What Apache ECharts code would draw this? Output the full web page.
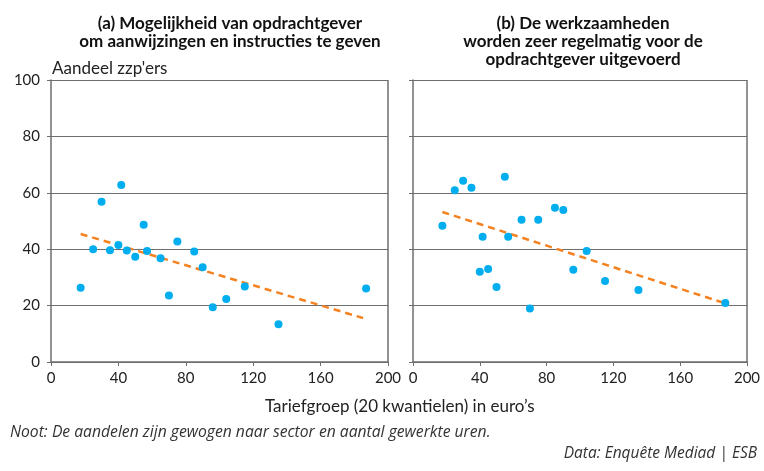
<!DOCTYPE html>
<html>
<head>
<meta charset="utf-8">
<script src="https://cdn.jsdelivr.net/npm/echarts@6/dist/echarts.min.js"></script>
<style>
  html, body { margin: 0; padding: 0; background: #fff; }
  #main { width: 764px; height: 471px; }
</style>
</head>
<body>
<div id="main"></div>
<script>
// tariefgroep (x) en aandeel zzp'ers (y)
let tarief = [17.6, 25, 30, 35, 40, 41.7, 45, 50, 55, 57, 65, 70, 75, 85, 90, 96, 104, 115, 135, 187]
let aandeelA = [26.3, 40.0, 56.8, 39.6, 41.5, 62.8, 39.5, 37.3, 48.7, 39.4, 36.8, 23.6, 42.7, 39.2, 33.6, 19.4, 22.3, 26.8, 13.4, 26.1]
let aandeelB = [48.3, 60.9, 64.3, 61.8, 32.0, 44.4, 33.0, 26.6, 65.7, 44.4, 50.4, 19.0, 50.4, 54.7, 53.9, 32.7, 39.4, 28.7, 25.5, 20.9]
// trendlijnen (begin- en eindpunt)
let trendA = [[17.6, 45.4], [185.2, 15.6]]
let trendB = [[17.6, 53.2], [187, 20.8]]
let xTicks = [0, 40, 80, 120, 160, 200]
let yTicks = [0, 20, 40, 60, 80, 100]

let font = 'Lato'
let grijs = '#6e6e6e'
let blauw = '#00aeef'
let oranje = '#f58220'

let punten = function(ys) {
    return tarief.map((x, i) => [x, ys[i]])
}

let xAs = function(idx) {
    return {
        gridIndex: idx, type: 'value', min: xTicks[0], max: xTicks[xTicks.length - 1], interval: 40,
        axisLine: { onZero: false, lineStyle: { color: grijs, width: 1.5 } },
        axisTick: { show: true, length: 4, lineStyle: { color: grijs } },
        axisLabel: { color: '#222', fontFamily: font, fontSize: 15, margin: 9 },
        splitLine: { show: false },
    }
}

let yAs = function(idx) {
    return {
        gridIndex: idx, type: 'value', min: yTicks[0], max: yTicks[yTicks.length - 1], interval: 20,
        axisLine: { show: true, onZero: false, lineStyle: { color: grijs, width: 1.5 } },
        axisTick: { show: true, length: 4, lineStyle: { color: grijs } },
        axisLabel: { show: idx === 0, color: '#222', fontFamily: font, fontSize: 15, margin: 11 },
        splitLine: { show: true, lineStyle: { color: grijs, width: 1 } },
    }
}

let myChart = echarts.init(document.getElementById('main'))

let option = {
    backgroundColor: '#fff',
    animation: false,
    title: [
        {
            text: '(a) Mogelijkheid van opdrachtgever\nom aanwijzingen en instructies te geven',
            left: 225, top: 10, textAlign: 'center',
            textStyle: { fontFamily: font, fontWeight: 'bold', fontSize: 17, lineHeight: 18, color: '#111' },
        },
        {
            text: '(b) De werkzaamheden\nworden zeer regelmatig voor de\nopdrachtgever uitgevoerd',
            left: 578, top: 10, textAlign: 'center',
            textStyle: { fontFamily: font, fontWeight: 'bold', fontSize: 17, lineHeight: 18, color: '#111' },
        },
    ],
    graphic: [
        { type: 'text', left: 52, top: 60, style: { text: "Aandeel zzp'ers", font: '17px Lato', fill: '#222' } },
        { type: 'text', left: 265, top: 398, style: { text: 'Tariefgroep (20 kwantielen) in euro’s', font: '17px Lato', fill: '#222' } },
        { type: 'text', left: 10, top: 425, style: { text: 'Noot: De aandelen zijn gewogen naar sector en aantal gewerkte uren.', font: 'italic 15.7px "Open Sans"', fill: '#333' } },
        { type: 'text', right: 7, top: 446, style: { text: 'Data: Enquête Mediad | ESB', font: 'italic 15.5px "Open Sans"', fill: '#333' } },
        // rechterrand van beide panelen
        { type: 'line', shape: { x1: 388, y1: 80, x2: 388, y2: 362 }, style: { stroke: grijs, lineWidth: 1.5 } },
        { type: 'line', shape: { x1: 747, y1: 80, x2: 747, y2: 362 }, style: { stroke: grijs, lineWidth: 1.5 } },
    ],
    grid: [
        { left: 51, top: 80, width: 337, height: 282 },
        { left: 413, top: 80, width: 334, height: 282 },
    ],
    xAxis: [xAs(0), xAs(1)],
    yAxis: [yAs(0), yAs(1)],
    series: [
        {
            type: 'line', xAxisIndex: 0, yAxisIndex: 0, data: trendA, symbol: 'none',
            lineStyle: { color: oranje, width: 2.5, type: [7, 5] }, z: 3,
        },
        {
            type: 'scatter', xAxisIndex: 0, yAxisIndex: 0, data: punten(aandeelA),
            symbolSize: 8, itemStyle: { color: blauw, opacity: 1 }, z: 4,
        },
        {
            type: 'line', xAxisIndex: 1, yAxisIndex: 1, data: trendB, symbol: 'none',
            lineStyle: { color: oranje, width: 2.5, type: [7, 5] }, z: 3,
        },
        {
            type: 'scatter', xAxisIndex: 1, yAxisIndex: 1, data: punten(aandeelB),
            symbolSize: 8, itemStyle: { color: blauw, opacity: 1 }, z: 4,
        },
    ],
}

myChart.setOption(option)
</script>
</body>
</html>
